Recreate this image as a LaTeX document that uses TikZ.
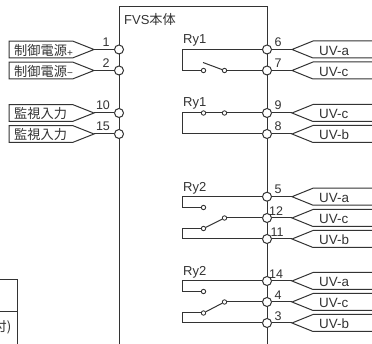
\documentclass[tikz,border=0pt]{standalone}
\usepackage{fontspec}
\setmainfont{Liberation Sans}
\newfontfamily\jpfont{Noto Sans CJK JP}
\definecolor{ink}{gray}{0.2}
\tikzset{
  wire/.style={draw=ink,line width=1pt},
  term/.style={circle,draw=ink,line width=1pt,fill=white,minimum size=9pt,inner sep=0pt},
  contact/.style={circle,draw=ink,line width=0.9pt,fill=white,minimum size=4.4pt,inner sep=0pt},
  num/.style={inner sep=0pt,text=ink,font=\fontsize{12.5}{12.5}\selectfont},
  lab/.style={inner sep=0pt,anchor=west,text=ink,font=\fontsize{13.4}{14}\selectfont},
  rylab/.style={inner sep=0pt,anchor=base west,text=ink,font=\fontsize{13}{14}\selectfont},
  jplab/.style={inner sep=0pt,anchor=west,text=ink,font=\fontsize{13.2}{14}\jpfont},
}
\newcommand{\lefttag}[3]{% terminal name, y, text
  \coordinate (#1tip) at (94,#2);
  \path[wire] (#1tip) -- (73,#2-8.3) -- (9,#2-8.3) -- (9,#2+8.3) -- (73,#2+8.3) -- cycle;
  \node[jplab] (#1tag) at (14,#2+0.8) {#3};
  \draw[wire] (#1tip) -- (#1);
}
\newcommand{\righttag}[3]{% terminal name, y, text
  \coordinate (#1tip) at (292,#2);
  \coordinate (#1ta) at (372,#2-8.5);
  \coordinate (#1tb) at (372,#2+8.5);
  \path[wire] (#1ta) -- (313,#2-8.5) -- (#1tip) -- (313,#2+8.5) -- (#1tb);
  \node[lab] (#1tag) at (319,#2+1) {#3};
  \draw[wire] (#1tip) -- (#1);
}
\begin{document}
\begin{tikzpicture}[x=1pt,y=-1pt]
\useasboundingbox (0,0) rectangle (372,344);
% FVS body and table corner
\coordinate (bl) at (119,344);
\coordinate (tl) at (119,7);
\coordinate (tr) at (267,7);
\coordinate (br) at (267,344);
\draw[wire] (bl) -- (tl) -- (tr) -- (br);
\node[jplab] (body) at (124,19) {{\rmfamily\fontsize{13}{14}\selectfont FVS}本体};
\coordinate (ta) at (0,280);
\coordinate (tb) at (17,280);
\coordinate (tc) at (0,312);
\coordinate (td) at (17,312);
\coordinate (te) at (17,344);
\draw[wire] (ta) -- (tb) -- (te);
\draw[wire] (tc) -- (td);
\node[jplab,anchor=east] (tabletext) at (11.5,327) {付)};
% terminals, left
\node[term] (t1) at (119,49.5) {};
\node[term] (t2) at (119,70.5) {};
\node[term] (t10) at (119,113) {};
\node[term] (t15) at (119,134) {};
\node[num] (n1) at (106,42) {1};
\node[num] (n2) at (106,63) {2};
\node[num] (n10) at (103,105) {10};
\node[num] (n15) at (103,126) {15};
\lefttag{t1}{49.5}{制御電源{\rmfamily\fontsize{10}{10}\selectfont\raisebox{-1pt}{+}}}
\lefttag{t2}{70.5}{制御電源{\rmfamily\fontsize{10}{10}\selectfont −}}
\lefttag{t10}{113}{監視入力}
\lefttag{t15}{134}{監視入力}
% terminals, right
\node[term] (t6) at (267,49.5) {};
\node[term] (t7) at (267,70.5) {};
\node[term] (t9) at (267,113) {};
\node[term] (t8) at (267,134) {};
\node[term] (t5) at (267,196.7) {};
\node[term] (t12) at (267,218) {};
\node[term] (t11) at (267,239) {};
\node[term] (t14) at (267,281) {};
\node[term] (t4) at (267,302) {};
\node[term] (t3) at (267,323) {};
\node[num] (n6) at (278,42) {6};
\node[num] (n7) at (278,63) {7};
\node[num] (n9) at (278,105) {9};
\node[num] (n8) at (278,126) {8};
\node[num] (n5) at (278,189) {5};
\node[num] (n12) at (276,211) {12};
\node[num] (n11) at (277,232) {11};
\node[num] (n14) at (276,274) {14};
\node[num] (n4) at (278,295) {4};
\node[num] (n3) at (278,316) {3};
\righttag{t6}{49.5}{UV-a}
\righttag{t7}{70.5}{UV-c}
\righttag{t9}{113}{UV-c}
\righttag{t8}{134}{UV-b}
\righttag{t5}{196.7}{UV-a}
\righttag{t12}{218}{UV-c}
\righttag{t11}{239}{UV-b}
\righttag{t14}{281}{UV-a}
\righttag{t4}{302}{UV-c}
\righttag{t3}{323}{UV-b}
% Relay 1, open contact
\node[rylab] (ry1a) at (183,43.5) {Ry1};
\node[contact] (c1a) at (203.5,70.5) {};
\node[contact] (c1b) at (224.5,70.5) {};
\coordinate (c1m) at (203,62.5);
\draw[wire] (t6) -| (182,70.5) -- (c1a);
\draw[wire] (c1b) -- (t7);
\draw[wire] (c1m) -- (c1b);
% Relay 1, closed contact
\node[rylab] (ry1b) at (183,107) {Ry1};
\node[contact] (c2a) at (203.5,113) {};
\node[contact] (c2b) at (224.5,113) {};
\draw[wire] (c2b) -- (t9);
\draw[wire] (c2a) -- (c2b);
\draw[wire] (c2a) -- (182,113) |- (t8);
% Relay 2, first
\node[rylab] (ry2a) at (183,191.7) {Ry2};
\node[contact] (c3a) at (203.5,207.5) {};
\node[contact] (c3b) at (224.5,218) {};
\node[contact] (c3c) at (203.5,228.5) {};
\draw[wire] (t5) -| (182,207.5) -- (c3a);
\draw[wire] (c3b) -- (t12);
\draw[wire] (c3c) -- (c3b);
\draw[wire] (c3c) -- (182,228.5) |- (t11);
% Relay 2, second
\node[rylab] (ry2b) at (183,275.7) {Ry2};
\node[contact] (c4a) at (203.5,291.5) {};
\node[contact] (c4b) at (224.5,302) {};
\node[contact] (c4c) at (203.5,313) {};
\draw[wire] (t14) -| (182,291.5) -- (c4a);
\draw[wire] (c4b) -- (t4);
\draw[wire] (c4c) -- (c4b);
\draw[wire] (c4c) -- (182,313) |- (t3);
\end{tikzpicture}
\end{document}
